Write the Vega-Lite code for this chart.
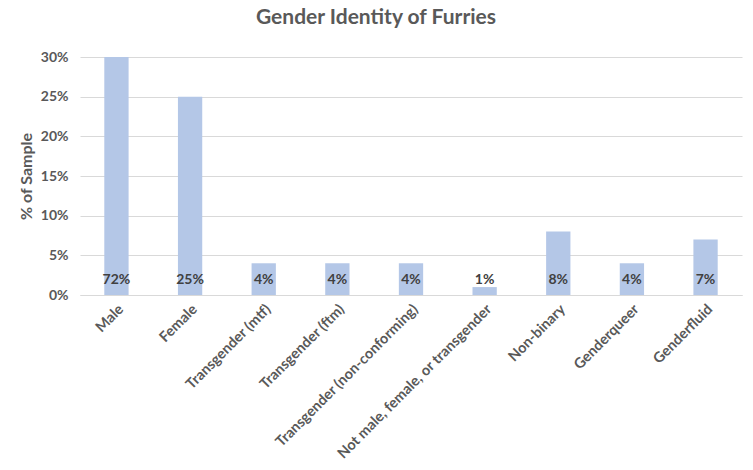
{
  "$schema": "https://vega.github.io/schema/vega-lite/v6.json",
  "autosize": "none",
  "width": 662,
  "height": 238,
  "padding": {"left": 80, "top": 57, "right": 11, "bottom": 175},
  "background": "white",
  "title": {
    "text": "Gender Identity of Furries",
    "font": "Lato",
    "fontSize": 21,
    "fontWeight": "bold",
    "color": "#595959",
    "anchor": "middle",
    "dx": -35,
    "offset": 22
  },
  "config": {
    "view": {"stroke": null},
    "font": "Lato",
    "axisY": {
      "title": "% of Sample",
      "titleFontSize": 16,
      "titleFontWeight": "bold",
      "titleColor": "#595959",
      "titlePadding": 6,
      "labelOverlap": false,
      "labelFontSize": 14,
      "labelFontWeight": "bold",
      "labelColor": "#595959",
      "labelPadding": 12,
      "ticks": false,
      "domain": false,
      "gridColor": "#d9d9d9"
    }
  },
  "data": {
    "values": [
      {"Identity": "Male", "Share": 0.72},
      {"Identity": "Female", "Share": 0.25},
      {"Identity": "Transgender (mtf)", "Share": 0.04},
      {"Identity": "Transgender (ftm)", "Share": 0.04},
      {"Identity": "Transgender (non-conforming)", "Share": 0.04},
      {"Identity": "Not male, female, or transgender", "Share": 0.01},
      {"Identity": "Non-binary", "Share": 0.08},
      {"Identity": "Genderqueer", "Share": 0.04},
      {"Identity": "Genderfluid", "Share": 0.07}
    ]
  },
  "encoding": {
    "x": {
      "field": "Identity",
      "type": "nominal",
      "sort": null,
      "scale": {"paddingInner": 0.67, "paddingOuter": 0.33},
      "axis": {
        "title": null,
        "labelAngle": -45,
        "labelAlign": "right",
        "labelBaseline": "top",
        "labelPadding": 7,
        "labelFontSize": 14.5,
        "labelFontWeight": "bold",
        "labelColor": "#595959",
        "labelLimit": 300,
        "ticks": false,
        "domainColor": "#d9d9d9",
        "grid": false
      }
    }
  },
  "layer": [
    {
      "mark": {"type": "bar", "color": "#b4c7e7", "clip": true},
      "encoding": {
        "y": {
          "field": "Share",
          "type": "quantitative",
          "scale": {"domain": [0, 0.3], "nice": false},
          "axis": {
            "title": "% of Sample",
            "format": "%",
            "values": [0, 0.05, 0.1, 0.15, 0.2, 0.25, 0.3]
          }
        }
      }
    },
    {
      "mark": {
        "type": "text",
        "fontSize": 14,
        "fontWeight": "bold",
        "color": "#404040",
        "baseline": "middle",
        "dy": -15
      },
      "encoding": {
        "y": {
          "datum": 0,
          "type": "quantitative",
          "scale": {"domain": [0, 0.3], "nice": false},
          "axis": {
            "title": "% of Sample",
            "format": "%",
            "values": [0, 0.05, 0.1, 0.15, 0.2, 0.25, 0.3]
          }
        },
        "text": {"field": "Share", "type": "quantitative", "format": ".0%"}
      }
    }
  ]
}
